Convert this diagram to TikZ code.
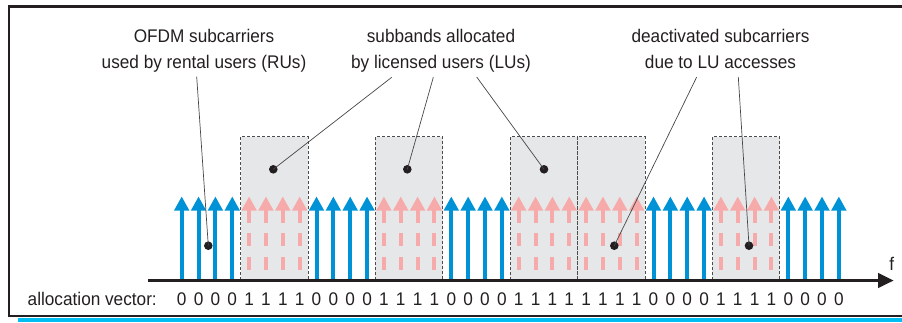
\documentclass[tikz,border=0pt]{standalone}
\usepackage{fontspec}
\setmainfont{Liberation Sans}
\newfontfamily\labfont[FakeStretch=0.94]{Liberation Sans}
\definecolor{ablue}{RGB}{0,146,214}
\definecolor{apink}{RGB}{246,170,170}
\definecolor{boxgray}{RGB}{230,231,233}
\definecolor{ink}{RGB}{35,31,32}
\definecolor{leader}{RGB}{70,70,70}
\definecolor{cyanbar}{RGB}{0,190,242}
\tikzset{
  lab/.style={font=\labfont\fontsize{18.3}{25.6}\selectfont, text=ink, align=center, inner sep=0pt},
  digit/.style={font=\labfont\fontsize{18.3}{22}\selectfont, text=ink, inner sep=0pt, anchor=base},
  subband/.style={fill=boxgray, draw=black!70, dash pattern=on 3pt off 2pt, line width=0.8pt},
  dotmark/.style={circle, fill=ink, inner sep=0pt, minimum size=8.6pt},
  leaderline/.style={draw=leader, line width=0.7pt},
}
\begin{document}
\begin{tikzpicture}[x=1pt,y=-1pt]
\useasboundingbox (0,0) rectangle (902,322);
% frame
\draw[line width=2.6pt, ink] (903,6.7) -- (9,6.7) -- (9,316) -- (903,316);
\fill[cyanbar] (18,318.2) rectangle (902,322);
% subband boxes
\foreach \k in {1,3,5,6,8}{
  \pgfmathsetmacro{\xa}{181.7+16.85*(4*\k)-8.42}
  \pgfmathsetmacro{\xb}{181.7+16.85*(4*\k+3)+8.42}
  \path[subband] (\xa,280) -- (\xa,136.7) -- (\xb,136.7) -- (\xb,280);
}
% subcarriers
\foreach \i/\v in {0/0,1/0,2/0,3/0,4/1,5/1,6/1,7/1,8/0,9/0,10/0,11/0,12/1,13/1,14/1,15/1,16/0,17/0,18/0,19/0,20/1,21/1,22/1,23/1,24/1,25/1,26/1,27/1,28/0,29/0,30/0,31/0,32/1,33/1,34/1,35/1,36/0,37/0,38/0,39/0}{
  \pgfmathsetmacro{\x}{181.7+16.85*\i}
  \ifnum\v=0
    \draw[ablue, line width=4pt] (\x,280) -- (\x,209);
    \fill[ablue] (\x-7.8,210.7) -- (\x,196.7) -- (\x+7.8,210.7) -- cycle;
  \else
    \draw[apink, line width=4pt] (\x,209) -- (\x,222.5) (\x,232.5) -- (\x,246) (\x,256.5) -- (\x,270);
    \fill[apink] (\x-7.8,210.7) -- (\x,196.7) -- (\x+7.8,210.7) -- cycle;
  \fi
  \node[digit] (d\i) at (\x,305) {\v};
}
% axis
\draw[ink, line width=3.2pt] (148,280.5) -- (880,280.5);
\fill[ink] (878,272.8) -- (893.5,280.5) -- (878,288.2) -- cycle;
\node[digit] (f) at (891.7,270) {f};
\node[digit, anchor=base east] (av) at (157,305) {allocation vector:};
% labels
\node[lab, anchor=base] (l1) at (204,68.3) {OFDM subcarriers\\used by rental users (RUs)};
\node[lab, anchor=base] (l2) at (441,68.3) {subbands allocated\\by licensed users (LUs)};
\node[lab, anchor=base] (l3) at (720.5,68.3) {deactivated subcarriers\\due to LU accesses};
% dots
\node[dotmark] (p1) at (208.3,245.7) {};
\node[dotmark] (p2) at (273.3,169.3) {};
\node[dotmark] (p3) at (407.3,169.3) {};
\node[dotmark] (p4) at (544,169.3) {};
\node[dotmark] (p5) at (614.3,245.7) {};
\node[dotmark] (p6) at (749,245.7) {};
\coordinate (s1) at (196.7,76.7);
\coordinate (s2) at (391.7,77.3);
\coordinate (s3) at (433.3,77.3);
\coordinate (s4) at (476.7,77);
\coordinate (s5) at (696.7,77);
\coordinate (s6) at (738.3,77);
\foreach \j in {1,...,6}{
  \draw[leaderline] (s\j) -- (p\j.center);
}
\end{tikzpicture}
\end{document}
